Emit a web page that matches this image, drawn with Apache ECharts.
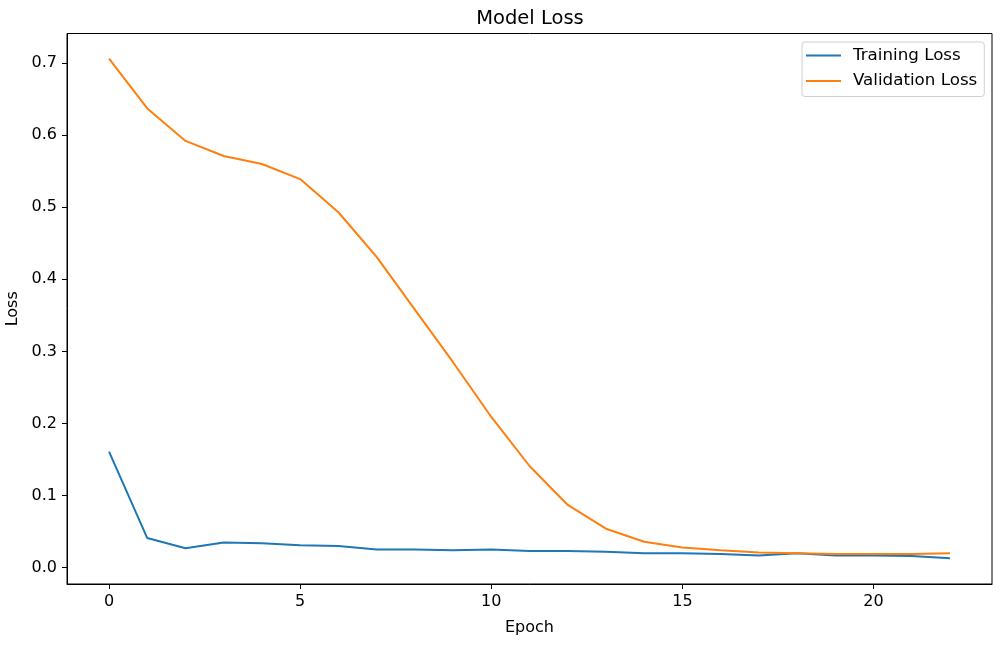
<!DOCTYPE html>
<html>
<head>
<meta charset="utf-8">
<script src="https://cdn.jsdelivr.net/npm/echarts@6/dist/echarts.min.js"></script>
<style>html,body{margin:0;padding:0;background:#fff}#c{width:1002px;height:646px}</style>
</head>
<body>
<div id="c"></div>
<script>
const epochs = [0,1,2,3,4,5,6,7,8,9,10,11,12,13,14,15,16,17,18,19,20,21,22];
const trainingLoss = [0.161,0.041,0.027,0.035,0.034,0.031,0.030,0.025,0.025,0.024,0.025,0.023,0.023,0.022,0.020,0.020,0.019,0.017,0.020,0.017,0.017,0.016,0.013];
const validationLoss = [0.706,0.637,0.592,0.571,0.560,0.539,0.493,0.431,0.358,0.285,0.209,0.141,0.087,0.054,0.036,0.028,0.024,0.021,0.020,0.019,0.019,0.019,0.020];
const xTicks = [0,5,10,15,20];
const yTicks = [0,0.1,0.2,0.3,0.4,0.5,0.6,0.7];

const FONT = 'DejaVu Sans';
const chart = echarts.init(document.getElementById('c'), null, {renderer:'canvas'});
const pairs = arr => epochs.map((e,i)=>[e, arr[i]]);
chart.setOption({
  animation:false,
  backgroundColor:'#fff',
  textStyle:{fontFamily:FONT},
  title:{text:'Model Loss', left:525, top:4, textAlign:'center',
    textStyle:{fontFamily:FONT, fontSize:19.5, fontWeight:'normal', color:'#000'}},
  legend:{
    orient:'vertical', left:802, top:42,
    padding:[5,7,7,4], itemGap:8.5, itemWidth:35, itemHeight:2, icon:'rect',
    borderColor:'#d0d0d0', borderWidth:1, borderRadius:3, backgroundColor:'rgba(255,255,255,0.8)',
    textStyle:{fontFamily:FONT, fontSize:16.7, color:'#000', lineHeight:16.5, padding:[0,0,0,7]},
    data:['Training Loss','Validation Loss']
  },
  grid:{left:67, right:10, top:33.5, bottom:62, show:true, borderColor:'#000', borderWidth:1,
    containLabel:false, outerBoundsMode:'none'},
  xAxis:{type:'value', min:-1.1, max:23.1,
    name:'Epoch', nameLocation:'middle', nameGap:36,
    nameTextStyle:{fontFamily:FONT, fontSize:16, color:'#000'},
    axisLine:{show:true, onZero:false, lineStyle:{color:'#000', width:1}},
    axisTick:{show:true, inside:false, length:5, customValues:xTicks, lineStyle:{color:'#000'}},
    axisLabel:{customValues:xTicks, margin:10, fontFamily:FONT, fontSize:16, color:'#000'},
    splitLine:{show:false}},
  yAxis:{type:'value', min:-0.0227, max:0.741,
    name:'Loss', nameLocation:'middle', nameGap:43, nameRotate:90,
    nameTextStyle:{fontFamily:FONT, fontSize:16, color:'#000'},
    axisLine:{show:true, onZero:false, lineStyle:{color:'#000', width:1}},
    axisTick:{show:true, inside:false, length:5, customValues:yTicks, lineStyle:{color:'#000'}},
    axisLabel:{customValues:yTicks, margin:10, fontFamily:FONT, fontSize:16, color:'#000',
      formatter:v=>v.toFixed(1)},
    splitLine:{show:false}},
  series:[
    {name:'Training Loss', type:'line', data:pairs(trainingLoss), symbol:'none', showSymbol:false,
      color:'#1f77b4', lineStyle:{color:'#1f77b4', width:2}},
    {name:'Validation Loss', type:'line', data:pairs(validationLoss), symbol:'none', showSymbol:false,
      color:'#ff7f0e', lineStyle:{color:'#ff7f0e', width:2}}
  ]
});
</script>
</body>
</html>
